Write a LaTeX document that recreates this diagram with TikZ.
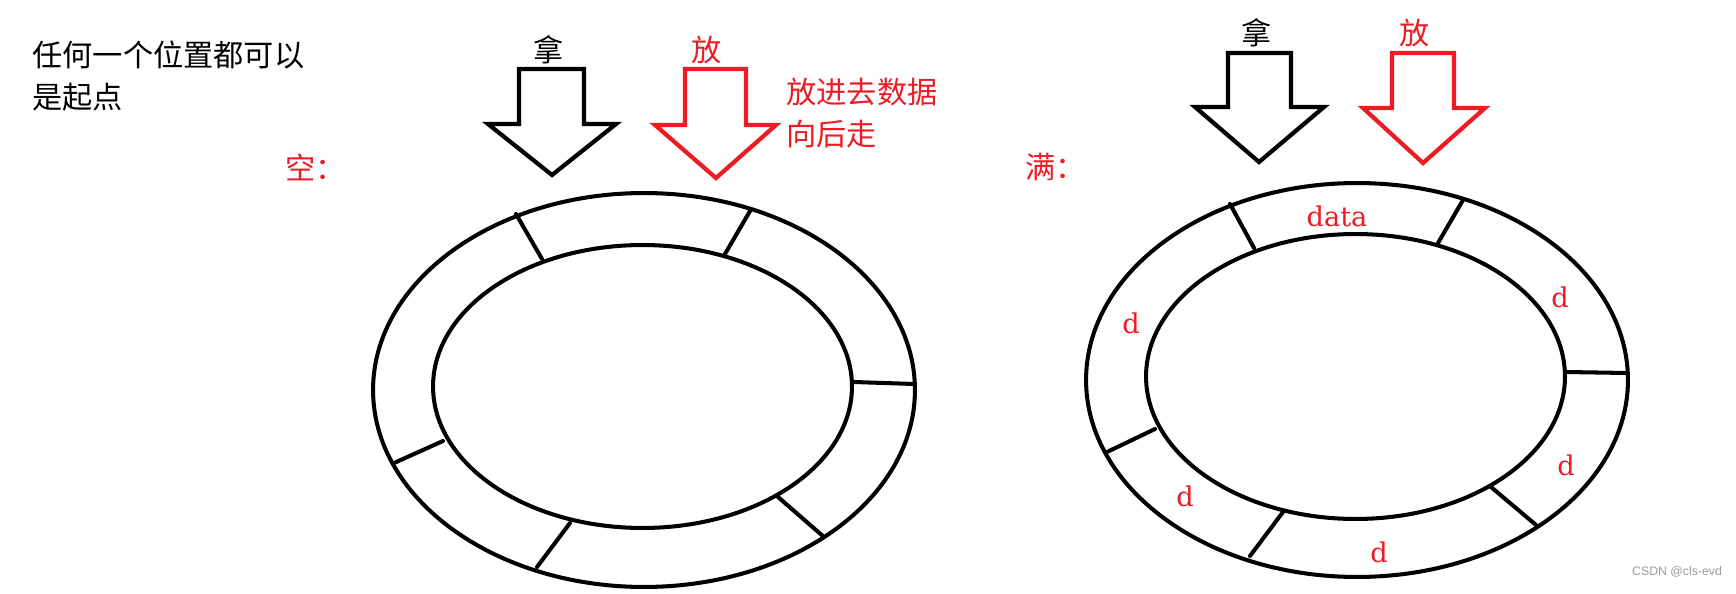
\documentclass[tikz,border=0pt]{standalone}
\usepackage{fontspec}
\usepackage{xcolor}
\newfontfamily\cjk{Noto Sans CJK SC}
\newfontfamily\dfont{DejaVu Serif}
\setsansfont{Liberation Sans}
\definecolor{paintred}{HTML}{ED1C24}
\definecolor{wmgray}{HTML}{9A9A9A}
\tikzset{
  ring/.style={black,line width=2.3pt},
  slot/.style={black,line width=2.3pt,line cap=round},
  blockarrow/.style={line width=2.4pt,line join=miter},
  cjktext/.style={font=\cjk\fontsize{17.2}{24}\selectfont,inner sep=0pt},
  cell/.style={font=\dfont\fontsize{15.5}{17}\selectfont,paintred,inner sep=0pt}
}

\begin{document}
\begin{tikzpicture}[x=0.02cm,y=-0.02cm]
  \useasboundingbox (0,0) rectangle (1736,594);

  % Note at top left
  \node[cjktext,align=left,anchor=west] (note) at (32,76) {任何一个位置都可以\\是起点};

  % Empty queue: arrows
  \draw[blockarrow,black] (519,69) -- (584,69) -- (584,124) -- (616,124) -- (552,175) -- (488,124) -- (519,124) -- cycle;
  \draw[blockarrow,paintred] (685,69) -- (746,69) -- (746,125) -- (776,125) -- (716,178) -- (655,125) -- (685,125) -- cycle;
  \node[cjktext] (takeL) at (549,50) {拿};
  \node[cjktext,paintred] (putL) at (707,50) {放};
  \node[cjktext,paintred,align=left,anchor=west] (hint) at (786,113) {放进去数据\\向后走};
  \node[cjktext,paintred,anchor=west] (empty) at (285,167) {空：};

  % Empty queue: ring
  \draw[ring] (644,390) ellipse [x radius=5.42cm, y radius=3.94cm];
  \draw[ring] (642.5,386.5) ellipse [x radius=4.19cm, y radius=2.83cm];
  \draw[slot] (542,259) -- (516,214);
  \draw[slot] (725,254) -- (750,211);
  \draw[slot] (854,382) -- (914,384);
  \draw[slot] (778,497) -- (824,537);
  \draw[slot] (570,523) -- (537,567);
  \draw[slot] (443,441) -- (394,463);

  % Full queue: arrows
  \draw[blockarrow,black] (1228,53) -- (1291,53) -- (1291,107) -- (1324,107) -- (1259,162) -- (1195,107) -- (1228,107) -- cycle;
  \draw[blockarrow,paintred] (1392,53) -- (1454,53) -- (1454,108) -- (1485,108) -- (1423,163) -- (1363,108) -- (1392,108) -- cycle;
  \node[cjktext] (takeR) at (1257,33) {拿};
  \node[cjktext,paintred] (putR) at (1415,33) {放};
  \node[cjktext,paintred,anchor=west] (full) at (1025,167) {满：};

  % Full queue: ring
  \draw[ring] (1357,380) ellipse [x radius=5.42cm, y radius=3.94cm];
  \draw[ring] (1355.5,376.5) ellipse [x radius=4.19cm, y radius=2.85cm];
  \draw[slot] (1254,248) -- (1230,204);
  \draw[slot] (1438,243) -- (1463,200);
  \draw[slot] (1566,372) -- (1627,373);
  \draw[slot] (1491,487) -- (1536,525);
  \draw[slot] (1283,512) -- (1250,556);
  \draw[slot] (1155,429) -- (1107,452);

  % Cell contents
  \node[cell] (c1) at (1337,216) {data};
  \node[cell] (c2) at (1560,297) {d};
  \node[cell] (c3) at (1566,465) {d};
  \node[cell] (c4) at (1379,552) {d};
  \node[cell] (c5) at (1185,496) {d};
  \node[cell] (c6) at (1131,323) {d};

  \node[font=\sffamily\fontsize{7}{8}\selectfont,wmgray] (wm) at (1677,572) {CSDN @cls-evd};
\end{tikzpicture}
\end{document}
